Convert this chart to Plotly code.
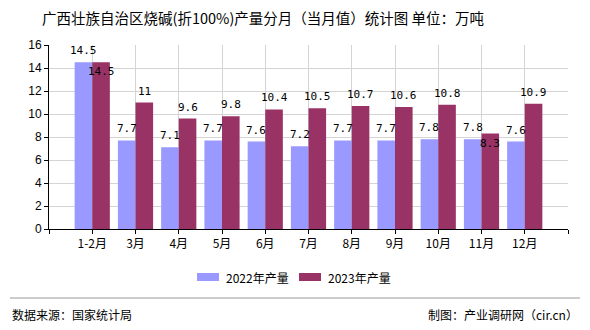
import plotly.graph_objects as go

categories = ["1-2月", "3月", "4月", "5月", "6月", "7月", "8月", "9月", "10月", "11月", "12月"]
values_2022 = [14.5, 7.7, 7.1, 7.7, 7.6, 7.2, 7.7, 7.7, 7.8, 7.8, 7.6]
values_2023 = [14.5, 11, 9.6, 9.8, 10.4, 10.5, 10.7, 10.6, 10.8, 8.3, 10.9]
series_names = ["2022年产量", "2023年产量"]
colors = ["#9999FF", "#993366"]
inside_2023 = [0, 9]  # label indices drawn inside the bar top

W, H = 590, 330
L, R, T, B = 49, 22, 45, 101
bargap = 0.186
n = len(categories)
xs = list(range(n))
off = (1 - bargap) / 4


def px_x(p):
    return (p - L) / (W - L - R)


def px_y(p):
    return (H - B - p) / (H - T - B)


fig = go.Figure()
for vals, name, c in zip([values_2022, values_2023], series_names, colors):
    fig.add_trace(go.Bar(x=xs, y=vals, name=name, marker_color=c,
                         marker_line_width=0, showlegend=False))

label_font = dict(family="DejaVu Sans Mono", size=11, color="#000000")
ann = []
for i, v in enumerate(values_2022):
    ann.append(dict(x=i - off, y=v, xref="x", yref="y", text=f"{v:g}",
                    showarrow=False, yanchor="bottom", yshift=3, font=label_font))
for i, v in enumerate(values_2023):
    if i in inside_2023:
        ann.append(dict(x=i + off, y=v, xref="x", yref="y", text=f"{v:g}",
                        showarrow=False, yanchor="top", yshift=-1, font=label_font))
    else:
        ann.append(dict(x=i + off, y=v, xref="x", yref="y", text=f"{v:g}",
                        showarrow=False, yanchor="bottom", yshift=3, font=label_font))

cjk = "Noto Sans CJK SC"
# title
ann.append(dict(x=px_x(40), y=px_y(18), xref="paper", yref="paper", xanchor="left",
                yanchor="middle", showarrow=False,
                text="广西壮族自治区烧碱(折100%)产量分月（当月值）统计图 单位：万吨",
                font=dict(family=cjk, size=14.5, color="#000000")))

# custom legend
shapes = []
leg = [(197, 224), (299, 326)]
for (sx, tx), name, c in zip(leg, series_names, colors):
    shapes.append(dict(type="rect", xref="paper", yref="paper",
                       x0=px_x(sx), x1=px_x(sx + 22), y0=px_y(281), y1=px_y(273),
                       fillcolor=c, line_width=0))
    ann.append(dict(x=px_x(tx), y=px_y(277), xref="paper", yref="paper",
                    xanchor="left", yanchor="middle", showarrow=False, text=name,
                    font=dict(family=cjk, size=12, color="#000000")))

# footer
shapes.append(dict(type="line", xref="paper", yref="paper",
                   x0=px_x(10), x1=px_x(580), y0=px_y(298), y1=px_y(298),
                   line=dict(color="#999999", width=1)))
ann.append(dict(x=px_x(10), y=px_y(314), xref="paper", yref="paper", xanchor="left",
                yanchor="middle", showarrow=False, text="数据来源：国家统计局",
                font=dict(family=cjk, size=12, color="#000000")))
ann.append(dict(x=px_x(580), y=px_y(314), xref="paper", yref="paper", xanchor="right",
                yanchor="middle", showarrow=False, text="制图：产业调研网（cir.cn）",
                font=dict(family=cjk, size=12, color="#000000")))

fig.update_layout(
    width=W, height=H, margin=dict(l=L, r=R, t=T, b=B),
    paper_bgcolor="white", plot_bgcolor="white",
    barmode="group", bargap=bargap, bargroupgap=0,
    annotations=ann, shapes=shapes,
    font=dict(family=cjk, size=12, color="#000000"),
)
fig.update_xaxes(range=[-1, n], tickvals=list(range(-1, n + 1)),
                 ticktext=[""] + categories + [""],
                 showgrid=True, gridcolor="#d4d4d4", gridwidth=1,
                 showline=True, linecolor="#000000", linewidth=1,
                 ticks="outside", ticklen=4, tickcolor="#000000",
                 tickfont=dict(family=cjk, size=12, color="#000000"), zeroline=False)
fig.update_yaxes(range=[0, 16], dtick=2, showgrid=True, gridcolor="#d4d4d4", gridwidth=1,
                 showline=True, linecolor="#000000", linewidth=1,
                 ticks="outside", ticklen=4, tickcolor="#000000",
                 tickfont=dict(family="Liberation Sans", size=12, color="#000000"),
                 zeroline=False)

fig.write_html("out.html")
